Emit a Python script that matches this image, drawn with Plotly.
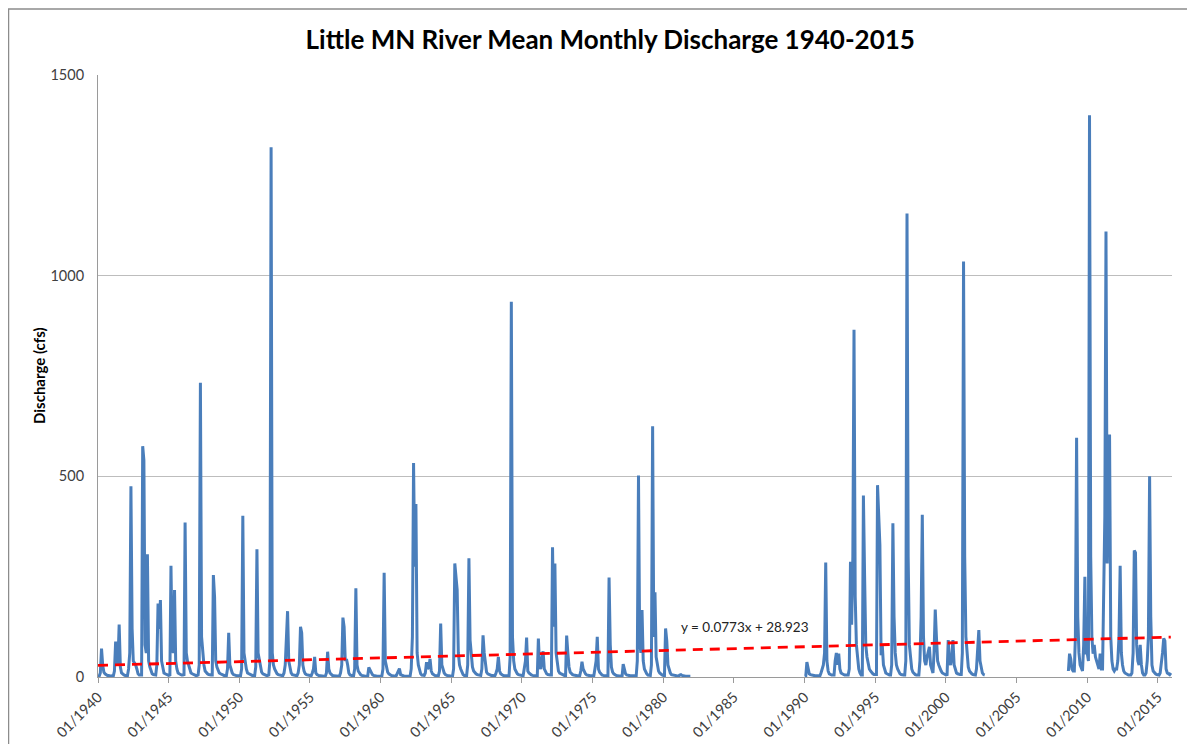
import pandas as pd
import plotly.graph_objects as go

# ****************************************************************************
# 01 - Datos (caudal medio mensual, cfs) - una fila por año, ene..dic
# ****************************************************************************

q_1940s = [
    2, 2, 10, 71, 30, 12, 8, 5, 4, 4, 3, 2,            # 1940
    3, 3, 15, 88, 30, 40, 131, 25, 10, 6, 5, 4,        # 1941
    4, 4, 20, 60, 475, 120, 40, 35, 30, 20, 8, 5,      # 1942
    5, 5, 575, 540, 80, 60, 306, 40, 25, 15, 8, 6,     # 1943
    5, 5, 30, 183, 120, 192, 40, 20, 10, 8, 6, 5,      # 1944
    4, 5, 277, 70, 60, 217, 40, 20, 10, 8, 6, 5,       # 1945
    5, 6, 385, 60, 40, 30, 20, 10, 8, 6, 5, 4,         # 1946
    4, 5, 30, 733, 100, 60, 30, 15, 10, 8, 6, 5,       # 1947
    5, 5, 254, 200, 40, 25, 15, 10, 8, 6, 5, 4,        # 1948
    4, 4, 20, 110, 30, 15, 10, 6, 4, 4, 3, 3,          # 1949
]
q_1950s = [
    3, 3, 20, 402, 60, 35, 20, 10, 8, 6, 5, 4,         # 1950
    4, 4, 25, 318, 60, 40, 25, 12, 8, 6, 5, 4,         # 1951
    4, 5, 40, 1320, 60, 30, 20, 12, 8, 6, 5, 4,        # 1952
    4, 4, 10, 30, 120, 164, 40, 20, 10, 6, 5, 4,       # 1953
    4, 4, 10, 30, 125, 110, 30, 15, 8, 6, 5, 4,        # 1954
    3, 3, 10, 20, 50, 10, 6, 4, 3, 3, 2, 2,            # 1955
    2, 2, 10, 63, 20, 10, 6, 4, 3, 3, 2, 2,            # 1956
    2, 2, 10, 30, 148, 125, 40, 45, 30, 10, 5, 3,      # 1957
    3, 3, 20, 221, 30, 15, 10, 6, 4, 3, 3, 2,          # 1958
    2, 2, 24, 18, 10, 6, 4, 3, 2, 2, 2, 2,             # 1959
]
q_1960s = [
    2, 2, 20, 260, 40, 20, 12, 8, 5, 4, 3, 3,          # 1960
    2, 2, 8, 15, 21, 6, 4, 3, 2, 2, 2, 2,              # 1961
    2, 2, 20, 100, 533, 275, 431, 60, 30, 15, 8, 5,    # 1962
    4, 4, 10, 37, 20, 25, 45, 15, 8, 5, 4, 3,          # 1963
    3, 3, 15, 133, 30, 15, 10, 6, 4, 3, 3, 2,          # 1964
    2, 2, 20, 283, 250, 217, 60, 30, 20, 10, 6, 4,     # 1965
    4, 4, 30, 296, 92, 50, 25, 15, 10, 8, 6, 5,        # 1966
    4, 4, 20, 104, 60, 25, 12, 8, 6, 5, 4, 4,          # 1967
    3, 3, 10, 20, 50, 15, 8, 5, 4, 3, 3, 3,            # 1968
    3, 3, 50, 935, 100, 40, 20, 12, 8, 6, 5, 4,        # 1969
]
q_1970s = [
    4, 4, 20, 40, 98, 15, 10, 6, 5, 4, 3, 3,           # 1970
    3, 3, 96, 30, 20, 40, 64, 20, 12, 8, 6, 5,         # 1971
    5, 5, 323, 125, 283, 60, 30, 15, 10, 8, 6, 5,      # 1972
    4, 4, 103, 60, 25, 12, 8, 6, 5, 4, 3, 3,           # 1973
    3, 3, 15, 38, 20, 12, 8, 5, 4, 3, 3, 3,            # 1974
    3, 3, 20, 40, 100, 20, 12, 8, 5, 4, 3, 3,          # 1975
    3, 3, 248, 80, 25, 12, 8, 5, 4, 3, 3, 2,           # 1976
    2, 2, 32, 15, 8, 5, 4, 3, 3, 3, 3, 3,              # 1977
    3, 3, 40, 502, 90, 60, 167, 40, 20, 12, 8, 5,      # 1978
    4, 4, 30, 625, 100, 211, 50, 25, 15, 10, 7, 5,     # 1979
]
# 1982-1989 sin datos
q_1980s = [
    4, 4, 121, 90, 30, 15, 10, 6, 5, 4, 3, 3,          # 1980
    2, 2, 5, 6, 4, 3, 3, 2, 2, 2, 2, 2,                # 1981
] + [None] * 96
q_1990s = [
    2, 3, 37, 20, 8, 6, 5, 4, 3, 3, 3, 3,              # 1990
    3, 3, 10, 20, 30, 60, 285, 40, 15, 8, 6, 5,        # 1991
    5, 5, 40, 60, 30, 58, 20, 10, 8, 6, 5, 5,          # 1992
    5, 5, 20, 287, 130, 300, 865, 200, 80, 40, 20, 10, # 1993
    5, 5, 452, 250, 80, 50, 30, 20, 15, 10, 8, 6,      # 1994
    6, 6, 478, 400, 329, 54, 80, 30, 15, 10, 8, 6,     # 1995
    5, 5, 30, 383, 150, 60, 30, 20, 12, 8, 6, 5,       # 1996
    5, 5, 40, 1155, 300, 80, 40, 20, 12, 8, 6, 5,      # 1997
    5, 5, 40, 150, 404, 100, 40, 30, 50, 60, 75, 30,   # 1998
    20, 10, 60, 168, 100, 40, 30, 20, 15, 10, 8, 6,    # 1999
]
# nov 2002 - ago 2008 sin datos
q_2000s = [
    5, 6, 92, 40, 30, 50, 92, 30, 15, 10, 8, 6,        # 2000
    6, 6, 60, 1035, 300, 100, 50, 25, 15, 10, 8, 6,    # 2001
    5, 5, 20, 60, 117, 40, 20, 10, 6, 5, None, None,   # 2002
] + [None] * 60 + [
    None, None, None, None, None, None, None, None, 15, 58, 45, 20,  # 2008
    15, 15, 100, 596, 150, 60, 30, 20, 15, 80, 250, 60,             # 2009
]
q_2010s = [
    60, 40, 1400, 300, 100, 58, 80, 50, 40, 30, 20, 58,   # 2010
    20, 20, 200, 400, 1110, 283, 500, 604, 100, 40, 20, 15,  # 2011
    20, 20, 40, 100, 277, 60, 30, 15, 10, 8, 6, 5,         # 2012
    5, 5, 10, 60, 315, 310, 80, 40, 30, 80, 30, 10,        # 2013
    5, 5, 10, 40, 100, 500, 150, 30, 15, 10, 8, 6,         # 2014
    5, 5, 10, 30, 60, 96, 90, 20, 10, 8, 6, 10,            # 2015
]

caudal = q_1940s + q_1950s + q_1960s + q_1970s + q_1980s + q_1990s + q_2000s + q_2010s
fechas = pd.date_range("1940-01-01", periods=len(caudal), freq="MS")

# Línea de tendencia de Excel: y = 0.0773x + 28.923 (x = número de mes)
pendiente, intercepto = 0.0773, 28.923
x_tend = [fechas[0], fechas[-1]]
y_tend = [pendiente * 1 + intercepto, pendiente * len(caudal) + intercepto]

ticks = pd.date_range("1940-01-01", "2015-01-01", freq="5YS")
tick_text = [t.strftime("%m/%Y") for t in ticks]

# ****************************************************************************
# 02 - Gráfico
# (la página tiene 8 px de margen en el body: se compensa en los márgenes)
# ****************************************************************************
fig = go.Figure()
fig.add_trace(go.Scatter(
    x=fechas, y=caudal, mode="lines", connectgaps=False,
    line=dict(color="#4A7EBB", width=3), showlegend=False
))
fig.add_trace(go.Scatter(
    x=x_tend, y=y_tend, mode="lines",
    line=dict(color="#FF0000", width=2.8, dash="10px,7px"), showlegend=False
))

ancho_area = 1074
alto_area = 602

fig.update_layout(
    width=1195, height=744,
    margin=dict(l=90, r=31, t=67, b=75),
    paper_bgcolor="white", plot_bgcolor="white",
    font=dict(family="Lato", color="#404040"),
    title=dict(text="<b>Little MN River Mean Monthly Discharge 1940-2015</b>",
               x=0.504, xanchor="center", y=0.957, yanchor="middle",
               font=dict(size=26, color="black", family="Lato")),
    xaxis=dict(
        range=["1940-01-01", "2016-01-01"], tickvals=ticks, ticktext=tick_text,
        tickangle=-45, tickfont=dict(size=14.5, color="#404040"),
        showgrid=False, showline=True, linecolor="#9a9a9a", linewidth=1,
        ticks="outside", ticklen=5, tickcolor="#9a9a9a", zeroline=False
    ),
    yaxis=dict(
        range=[0, 1500], dtick=500, tickfont=dict(size=14.5, color="#404040"),
        showgrid=True, gridcolor="#bdbdbd", gridwidth=1,
        showline=True, linecolor="#9a9a9a", linewidth=1, zeroline=False,
        ticks="", ticklabelstandoff=10
    ),
    annotations=[
        dict(text="<b>Discharge (cfs)</b>", xref="paper", yref="paper",
             x=(39 - 98) / ancho_area, y=0.5, xanchor="center", yanchor="middle",
             textangle=-90, showarrow=False,
             font=dict(size=15, color="black")),
        dict(text="y = 0.0773x + 28.923", xref="paper", yref="paper",
             x=(745 - 98) / ancho_area, y=(677 - 627) / alto_area,
             xanchor="center", yanchor="middle", showarrow=False,
             font=dict(size=13.5, color="#222222")),
    ],
    shapes=[
        dict(type="rect", xref="paper", yref="paper",
             x0=-89.5 / ancho_area, x1=1.1, y0=-0.3, y1=(677 - 9) / alto_area,
             line=dict(color="#8c8c8c", width=1.5), fillcolor="rgba(0,0,0,0)",
             layer="below"),
    ],
)

fig.write_html("out.html")
